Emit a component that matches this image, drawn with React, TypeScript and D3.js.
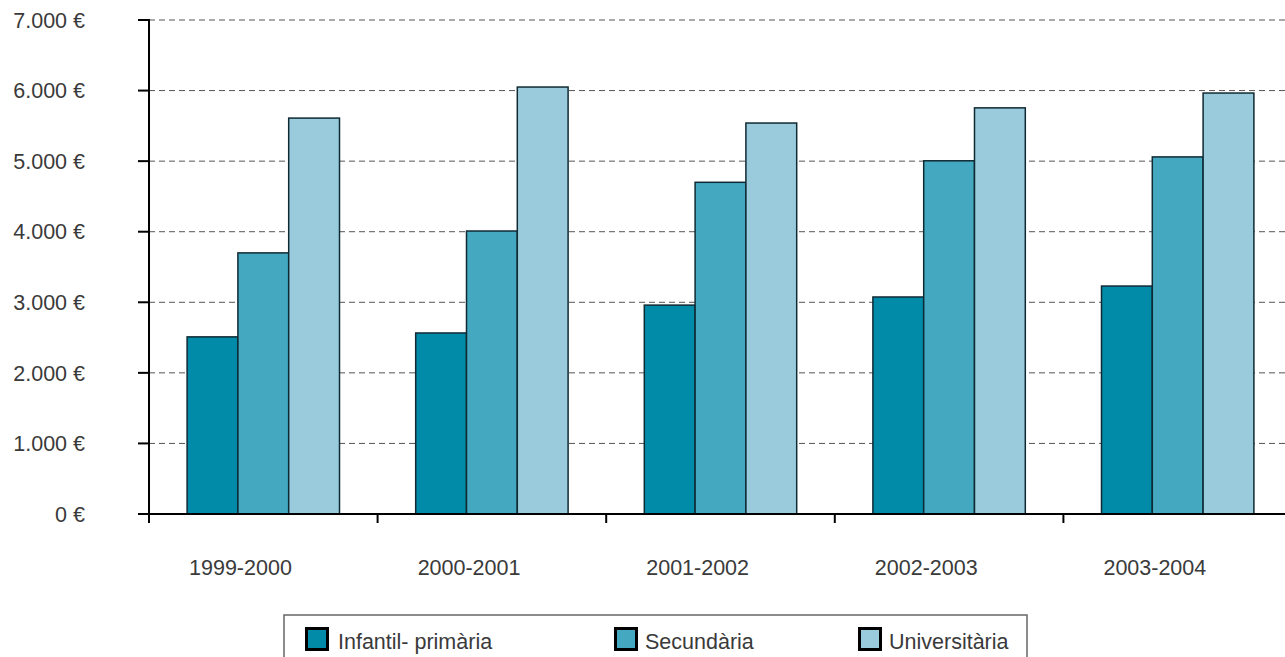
import React from "react";
import * as d3 from "d3";

const categories = ["1999-2000", "2000-2001", "2001-2002", "2002-2003", "2003-2004"];
const seriesNames = ["Infantil- primària", "Secundària", "Universitària"];
const infantil = [2510, 2565, 2960, 3075, 3230];
const secundaria = [3700, 4010, 4700, 5005, 5060];
const universitaria = [5610, 6050, 5540, 5755, 5965];
const yTicks = [0, 1000, 2000, 3000, 4000, 5000, 6000, 7000];
const colors = ["#018ba8", "#44a9c0", "#9acbdc"];

const W = 1285;
const H = 657;
const x0 = 149;
const x1 = 1292;
const yBase = 514;
const yTop = 20;
const font = "'Liberation Sans', Arial, Helvetica, sans-serif";
const fs = 21.5;

function fmt(v: number) {
  const s = d3.format(",")(v).replace(/,/g, ".");
  return s + " €";
}

export default function App() {
  const values = [infantil, secundaria, universitaria];
  const outer = d3.scaleBand<string>().domain(categories).range([x0, x1]).padding(0);
  const step = outer.step();
  const inner = d3
    .scaleBand<string>()
    .domain(seriesNames)
    .range([0, outer.bandwidth()])
    .paddingInner(0)
    .paddingOuter(0.75);
  const y = d3.scaleLinear().domain([0, 7000]).range([yBase, yTop]);

  const legendItems = [
    { name: seriesNames[0], sx: 306.5, tx: 338, color: colors[0] },
    { name: seriesNames[1], sx: 615.5, tx: 645, color: colors[1] },
    { name: seriesNames[2], sx: 859.5, tx: 889, color: colors[2] },
  ];

  return (
    <svg width={W} height={H} style={{ position: "absolute", left: 0, top: 0, background: "#fff" }}>
      {yTicks.filter((t) => t > 0).map((t) => (
        <line
          key={"g" + t}
          x1={x0}
          x2={W}
          y1={y(t)}
          y2={y(t)}
          stroke="#555"
          strokeWidth={1}
          strokeDasharray="6,4"
        />
      ))}
      {categories.map((c, i) => (
        <g key={c} transform={`translate(${outer(c)},0)`}>
          {seriesNames.map((s, j) => (
            <rect
              key={s}
              x={inner(s)}
              y={y(values[j][i])}
              width={inner.bandwidth()}
              height={yBase - y(values[j][i])}
              fill={colors[j]}
              stroke="#0f2a33"
              strokeWidth={1.5}
            />
          ))}
        </g>
      ))}
      <line x1={x0} x2={x0} y1={yTop - 1} y2={yBase + 8} stroke="#000" strokeWidth={2} />
      {yTicks.map((t) => (
        <g key={"yt" + t}>
          <line x1={x0 - 11} x2={x0} y1={y(t)} y2={y(t)} stroke="#000" strokeWidth={2} />
          <text
            x={85}
            y={y(t)}
            dy="0.36em"
            textAnchor="end"
            fontFamily={font}
            fontSize={fs}
            fill="#3a3a3a"
          >
            {fmt(t)}
          </text>
        </g>
      ))}
      <line x1={x0 - 11} x2={W} y1={yBase} y2={yBase} stroke="#000" strokeWidth={2} />
      {categories.map((c) => (
        <g key={"xt" + c}>
          <line x1={outer(c)} x2={outer(c)} y1={yBase} y2={yBase + 9} stroke="#000" strokeWidth={2} />
          <text
            x={(outer(c) as number) + step * 0.4}
            y={575}
            textAnchor="middle"
            fontFamily={font}
            fontSize={fs}
            fill="#3a3a3a"
          >
            {c}
          </text>
        </g>
      ))}
      <rect x={284} y={615} width={743} height={60} fill="#fff" stroke="#666" strokeWidth={1.5} />
      {legendItems.map((l) => (
        <g key={l.name}>
          <rect x={l.sx} y={628.5} width={21} height={21} fill={l.color} stroke="#000" strokeWidth={3} />
          <text x={l.tx} y={649} fontFamily={font} fontSize={fs} fill="#3a3a3a">
            {l.name}
          </text>
        </g>
      ))}
    </svg>
  );
}
